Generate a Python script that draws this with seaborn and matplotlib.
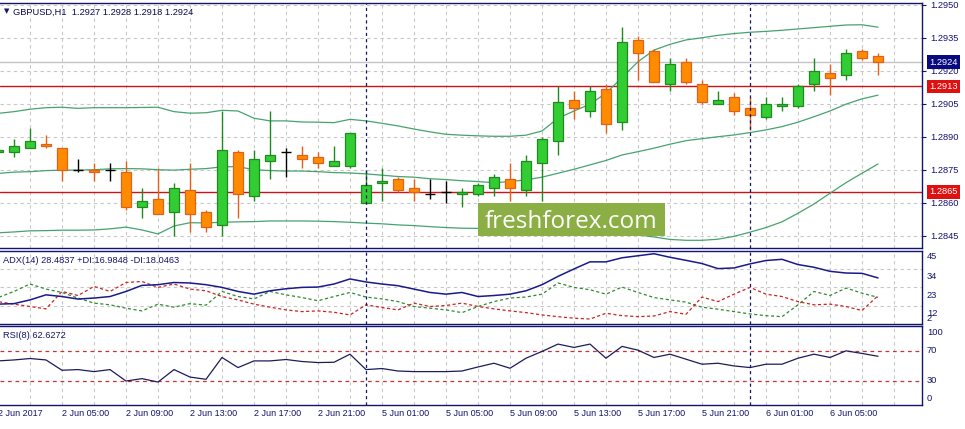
import numpy as np
import pandas as pd
import matplotlib
matplotlib.use('Agg')
import matplotlib.pyplot as plt
from matplotlib.patches import Rectangle
import seaborn as sns

sns.set_theme(style='white')
plt.rcParams['font.family'] = ['Liberation Sans', 'DejaVu Sans']

# ---------------- data (GBPUSD H1, bar -1 = 2 Jun 01:00) ----------------
bars = list(range(-1, 55))

opens = [1.2883, 1.2883, 1.2885, 1.2887, 1.2885, 1.2875, 1.2875, 1.2875, 1.2874, 1.2858,
         1.2862, 1.2856, 1.2866, 1.2856, 1.2850, 1.2883, 1.2863, 1.2879, 1.2883, 1.2882,
         1.2881, 1.2877, 1.2877, 1.2860, 1.2869, 1.2871, 1.2867, 1.2864, 1.2865, 1.2864,
         1.2864, 1.2867, 1.2871, 1.2866, 1.2878, 1.2888, 1.2907, 1.2902, 1.2912, 1.2897,
         1.2934, 1.2929, 1.2914, 1.2924, 1.2914, 1.2905, 1.2908, 1.2903, 1.2899, 1.2904,
         1.2904, 1.2914, 1.2919, 1.2918, 1.2929, 1.2927]
highs = [1.2885, 1.2889, 1.2894, 1.2891, 1.2885, 1.2880, 1.2878, 1.2878, 1.2879, 1.2867,
         1.2876, 1.2869, 1.2878, 1.2857, 1.2902, 1.2884, 1.2884, 1.2902, 1.2885, 1.2886,
         1.2883, 1.2886, 1.2892, 1.2875, 1.2876, 1.2872, 1.2871, 1.2871, 1.2870, 1.2867,
         1.2869, 1.2873, 1.2878, 1.2882, 1.2890, 1.2913, 1.2911, 1.2913, 1.2914, 1.2940,
         1.2936, 1.2930, 1.2926, 1.2926, 1.2916, 1.2911, 1.2910, 1.2908, 1.2908, 1.2908,
         1.2914, 1.2926, 1.2923, 1.2930, 1.2930, 1.2928]
lows = [1.2882, 1.2881, 1.2885, 1.2885, 1.2870, 1.2874, 1.2870, 1.2870, 1.2857, 1.2853,
        1.2855, 1.2845, 1.2847, 1.2847, 1.2845, 1.2853, 1.2861, 1.2871, 1.2872, 1.2876,
        1.2876, 1.2877, 1.2876, 1.2860, 1.2861, 1.2865, 1.2861, 1.2862, 1.2860, 1.2858,
        1.2863, 1.2863, 1.2861, 1.2863, 1.2861, 1.2882, 1.2898, 1.2899, 1.2892, 1.2893,
        1.2916, 1.2915, 1.2911, 1.2914, 1.2905, 1.2905, 1.2900, 1.2893, 1.2898, 1.2902,
        1.2903, 1.2911, 1.2909, 1.2916, 1.2925, 1.2918]
closes = [1.2884, 1.2886, 1.2888, 1.2886, 1.2875, 1.2875, 1.2874, 1.2875, 1.2858, 1.2861,
          1.2855, 1.2867, 1.2855, 1.2849, 1.2884, 1.2864, 1.2880, 1.2882, 1.2883, 1.2880,
          1.2878, 1.2879, 1.2892, 1.2868, 1.2870, 1.2866, 1.2865, 1.2864, 1.2865, 1.2865,
          1.2868, 1.2872, 1.2867, 1.2879, 1.2889, 1.2906, 1.2903, 1.2911, 1.2896, 1.2933,
          1.2928, 1.2915, 1.2923, 1.2915, 1.2906, 1.2907, 1.2902, 1.2900, 1.2905, 1.2905,
          1.2913, 1.2920, 1.2917, 1.2928, 1.2926, 1.2924]

bb_upper = [1.29007, 1.29015, 1.29026, 1.29033, 1.29035, 1.29030, 1.29033, 1.29033, 1.29033, 1.29034,
            1.29035, 1.29015, 1.29008, 1.29010, 1.29021, 1.29018, 1.28985, 1.28973, 1.28973, 1.28968,
            1.28967, 1.28965, 1.28980, 1.28973, 1.28962, 1.28950, 1.28936, 1.28923, 1.28912, 1.28908,
            1.28905, 1.28903, 1.28903, 1.28908, 1.28927, 1.28985, 1.29018, 1.29049, 1.29099, 1.29170,
            1.29242, 1.29295, 1.29321, 1.29341, 1.29351, 1.29362, 1.29370, 1.29376, 1.29380, 1.29385,
            1.29391, 1.29397, 1.29403, 1.29409, 1.29410, 1.29399]
bb_middle = [1.28734, 1.28740, 1.28742, 1.28747, 1.28749, 1.28749, 1.28751, 1.28755, 1.28756, 1.28755,
             1.28751, 1.28749, 1.28753, 1.28756, 1.28764, 1.28765, 1.28751, 1.28747, 1.28745, 1.28745,
             1.28742, 1.28738, 1.28736, 1.28732, 1.28726, 1.28720, 1.28717, 1.28710, 1.28706, 1.28701,
             1.28697, 1.28692, 1.28697, 1.28705, 1.28717, 1.28735, 1.28753, 1.28773, 1.28793, 1.28818,
             1.28833, 1.28849, 1.28867, 1.28883, 1.28892, 1.28901, 1.28909, 1.28920, 1.28932, 1.28947,
             1.28967, 1.28992, 1.29018, 1.29049, 1.29073, 1.29090]
bb_lower = [1.28464, 1.28468, 1.28473, 1.28474, 1.28476, 1.28476, 1.28477, 1.28482, 1.28490, 1.28477,
            1.28459, 1.28495, 1.28510, 1.28509, 1.28512, 1.28514, 1.28515, 1.28518, 1.28518, 1.28518,
            1.28517, 1.28515, 1.28512, 1.28508, 1.28505, 1.28500, 1.28497, 1.28492, 1.28488, 1.28485,
            1.28484, 1.28483, 1.28482, 1.28480, 1.28480, 1.28477, 1.28475, 1.28473, 1.28468, 1.28462,
            1.28455, 1.28445, 1.28434, 1.28430, 1.28430, 1.28435, 1.28448, 1.28467, 1.28488, 1.28514,
            1.28553, 1.28595, 1.28644, 1.28692, 1.28735, 1.28777]

adx = [13.0, 13.3, 15.5, 18.5, 17.5, 16.0, 16.6, 17.5, 20.5, 24.1,
       24.5, 25.8, 25.5, 24.5, 22.9, 20.5, 18.9, 20.9, 22.1, 22.9,
       23.1, 24.9, 27.9, 26.1, 24.9, 23.9, 21.9, 19.9, 18.9, 19.9,
       17.5, 18.1, 18.9, 20.9, 24.5, 29.4, 33.8, 38.0, 38.0, 40.4,
       41.6, 42.8, 40.7, 38.9, 37.0, 34.0, 34.4, 36.8, 38.8, 39.5,
       36.4, 34.8, 32.4, 31.4, 31.2, 28.5]
plus_di = [16.9, 20.5, 24.9, 21.9, 19.9, 16.6, 13.6, 12.6, 10.6, 9.0,
           13.0, 11.2, 13.3, 12.4, 20.5, 17.5, 16.1, 20.5, 18.5, 16.9,
           15.0, 17.5, 19.9, 17.2, 16.1, 14.5, 11.6, 10.6, 9.6, 8.0,
           11.6, 14.5, 16.6, 17.2, 18.9, 25.5, 22.9, 21.5, 18.9, 23.1,
           19.9, 16.9, 15.5, 14.2, 11.2, 10.0, 8.6, 7.2, 6.2, 5.6,
           12.6, 20.5, 18.1, 22.5, 19.5, 17.0]
minus_di = [14.5, 13.0, 11.6, 10.2, 20.5, 18.1, 23.5, 20.5, 25.8, 26.4,
            22.9, 24.9, 21.9, 20.9, 17.5, 15.5, 13.0, 11.2, 9.6, 8.6,
            9.0, 8.2, 6.6, 12.6, 11.0, 9.6, 13.6, 11.6, 12.2, 13.6,
            11.6, 10.2, 9.0, 8.0, 6.6, 5.6, 4.7, 4.2, 7.6, 6.2,
            5.6, 6.0, 8.6, 7.0, 17.2, 14.5, 18.9, 22.9, 18.9, 17.5,
            14.5, 12.6, 13.0, 11.6, 9.2, 18.0]
rsi = [56.4, 57.7, 59.6, 57.7, 43.9, 44.8, 42.1, 44.8, 29.5, 32.7,
       28.1, 44.8, 34.8, 31.8, 61.0, 47.5, 56.4, 56.4, 58.3, 55.6,
       54.2, 54.6, 65.4, 44.8, 46.2, 42.9, 42.1, 42.1, 42.1, 42.9,
       48.3, 53.3, 46.6, 60.0, 69.1, 78.9, 74.4, 78.9, 60.0, 75.8,
       70.8, 61.0, 65.4, 58.7, 52.0, 53.3, 49.7, 47.5, 52.0, 52.0,
       60.0, 65.4, 61.0, 69.9, 66.4, 62.6]

time_labels = ['2 Jun 2017', '2 Jun 05:00', '2 Jun 09:00', '2 Jun 13:00', '2 Jun 17:00',
               '2 Jun 21:00', '5 Jun 01:00', '5 Jun 05:00', '5 Jun 09:00', '5 Jun 13:00',
               '5 Jun 17:00', '5 Jun 21:00', '6 Jun 01:00', '6 Jun 05:00']
time_label_bars = [-1, 3, 7, 11, 15, 19, 23, 27, 31, 35, 39, 43, 47, 51]
day_breaks = [22, 46]
price_ticks = [1.2950, 1.2935, 1.2920, 1.2905, 1.2890, 1.2875, 1.2860, 1.2845]
levels = [1.2913, 1.2865]
bid = 1.2924

df = pd.DataFrame({'bar': bars, 'open': opens, 'high': highs, 'low': lows, 'close': closes,
                   'upper': bb_upper, 'middle': bb_middle, 'lower': bb_lower,
                   'adx': adx, 'pdi': plus_di, 'mdi': minus_di, 'rsi': rsi})

# ---------------- style ----------------
W, H = 965, 429
navy = '#14146e'
grid_col = '#c8c8c8'
green_fill, green_edge = '#32cd32', '#1f8a1f'
orange_fill, orange_edge = '#ff8c00', '#e2601a'
band_col = '#46a36e'
fs = 6.7

fig = plt.figure(figsize=(W / 100, H / 100), dpi=100)
fig.patch.set_facecolor('white')


def panel(top, bottom, right=922):
    a = fig.add_axes([0, 1 - bottom / H, right / W, (bottom - top) / H])
    a.set_facecolor('white')
    a.set_xlim(-0.875, 56.75)
    for s in ['top', 'bottom', 'right']:
        a.spines[s].set_color(navy)
        a.spines[s].set_linewidth(1.0)
    a.spines['left'].set_visible(False)
    a.set_xticks(range(1, 56, 2))
    a.grid(axis='x', color=grid_col, linestyle=(0, (3, 3)), lw=0.8)
    a.tick_params(axis='x', length=0, labelbottom=False)
    for b in day_breaks:
        a.axvline(b, color=navy, linestyle=(0, (2.5, 2.5)), lw=0.9, zorder=6)
    return a


ax = panel(3, 248)
ax_adx = panel(250.5, 324)
ax_rsi = panel(326, 404.5)

# ---------------- main price panel ----------------
ax.set_ylim(1.28395, 1.29509)
ax.yaxis.tick_right()
ax.set_yticks(price_ticks)
ax.set_yticklabels([f'{p:.4f}' for p in price_ticks])
ax.tick_params(axis='y', length=3, width=0.8, color=navy, labelcolor=navy,
               labelsize=fs, pad=3, direction='out')
ax.grid(axis='y', color=grid_col, linestyle=(0, (3, 3)), lw=0.8)

ax.axhline(bid, color='#c4c4c4', lw=1.0, zorder=1)
for lv in levels:
    ax.axhline(lv, color='#cc1414', lw=1.0, zorder=2)

for key in ['upper', 'middle', 'lower']:
    sns.lineplot(data=df, x='bar', y=key, ax=ax, color=band_col, lw=0.9, zorder=2, legend=False)

x = df['bar'].to_numpy(float)
o = df['open'].to_numpy()
c = df['close'].to_numpy()
up = c > o + 1e-9
dn = c < o - 1e-9
flat = ~(up | dn)
wick = np.where(up, green_edge, np.where(dn, orange_edge, 'black'))
ax.vlines(x, df['low'], df['high'], colors=wick, lw=1.0, zorder=3)
ax.bar(x[up], (c - o)[up], bottom=o[up], width=0.62, color=green_fill,
       edgecolor=green_edge, lw=0.9, zorder=4)
ax.bar(x[dn], (o - c)[dn], bottom=c[dn], width=0.62, color=orange_fill,
       edgecolor=orange_edge, lw=0.9, zorder=4)
ax.hlines(o[flat], x[flat] - 0.31, x[flat] + 0.31, colors='black', lw=1.0, zorder=4)
ax.set_xlabel('')
ax.set_ylabel('')

tags = [(bid, '#0a0a80'), (levels[0], '#e01010'), (levels[1], '#e01010')]
for val, col in tags:
    ax.annotate(f'{val:.4f}', xy=(1, val), xycoords=('axes fraction', 'data'),
                xytext=(5, 0), textcoords='offset points', ha='left', va='center',
                fontsize=fs, color='white', annotation_clip=False, zorder=10,
                bbox=dict(boxstyle='square,pad=0.25', fc=col, ec='none'))

fig.text(4 / W, 1 - 11.5 / H, '\u25bc', fontsize=5, color=navy, ha='left', va='center',
         family=['DejaVu Sans'])
fig.text(13 / W, 1 - 12 / H, 'GBPUSD,H1  1.2927 1.2928 1.2918 1.2924', fontsize=fs,
         color='#0a0a50', ha='left', va='center')

# ---------------- ADX panel ----------------
ax_adx.set_ylim(1.26, 44.71)
ax_adx.set_yticks([])
for g in [34, 23, 12]:
    ax_adx.axhline(g, color=grid_col, linestyle=(0, (3, 3)), lw=0.8, zorder=1)
sns.lineplot(data=df, x='bar', y='pdi', ax=ax_adx, color='#2e8b2e', lw=0.9,
             linestyle=(0, (2.5, 2)), zorder=3, legend=False)
sns.lineplot(data=df, x='bar', y='mdi', ax=ax_adx, color='#cc2222', lw=0.9,
             linestyle=(0, (2.5, 2)), zorder=3, legend=False)
sns.lineplot(data=df, x='bar', y='adx', ax=ax_adx, color='#1a1a8c', lw=1.1, zorder=4, legend=False)
ax_adx.set_xlabel('')
ax_adx.set_ylabel('')
for txt, v in zip(['45', '34', '23', '12', '2'], [41.0, 29.1, 18.1, 7.2, 4.8]):
    ax_adx.annotate(txt, xy=(1, v), xycoords=('axes fraction', 'data'), xytext=(3.6, 0),
                    textcoords='offset points', ha='left', va='center', fontsize=fs,
                    color=navy, annotation_clip=False)
ax_adx.text(3 / W * (W / 922), 0.87, 'ADX(14) 28.4837 +DI:16.9848 -DI:18.0463',
            transform=ax_adx.transAxes, fontsize=fs, color=navy, ha='left', va='center')

# ---------------- RSI panel ----------------
ax_rsi.set_ylim(-1.9, 103.1)
ax_rsi.set_yticks([])
for lv in [70, 30]:
    ax_rsi.axhline(lv, color='#c83232', linestyle=(0, (3, 3)), lw=0.9, zorder=2)
sns.lineplot(data=df, x='bar', y='rsi', ax=ax_rsi, color='#1c1c5c', lw=0.9, zorder=4, legend=False)
ax_rsi.set_xlabel('')
ax_rsi.set_ylabel('')
for txt, v in zip(['100', '70', '30', '0'], [94.6, 69.9, 30.0, 6.2]):
    ax_rsi.annotate(txt, xy=(1, v), xycoords=('axes fraction', 'data'), xytext=(3.6, 0),
                    textcoords='offset points', ha='left', va='center', fontsize=fs,
                    color=navy, annotation_clip=False)
ax_rsi.text(3 / 922, 0.88, 'RSI(8) 62.6272', transform=ax_rsi.transAxes,
            fontsize=fs, color=navy, ha='left', va='center')

for b, lab in zip(time_label_bars, time_labels):
    ax_rsi.annotate(lab, xy=(b, 0), xycoords=('data', 'axes fraction'), xytext=(0, -3.5),
                    textcoords='offset points', ha='left', va='top', fontsize=6.5,
                    color=navy, annotation_clip=False)

# ---------------- watermark ----------------
fig.patches.append(Rectangle((478 / W, 1 - 236 / H), 187 / W, 33 / H,
                             transform=fig.transFigure, fc='#8baf44', ec='none', zorder=8))
fig.text(571 / W, 1 - 228 / H, 'freshforex.com', fontsize=17.5, color='white',
         family=['Open Sans', 'DejaVu Sans'], ha='center', va='baseline', zorder=9)

fig.savefig('out.png', dpi=100, facecolor='white')
